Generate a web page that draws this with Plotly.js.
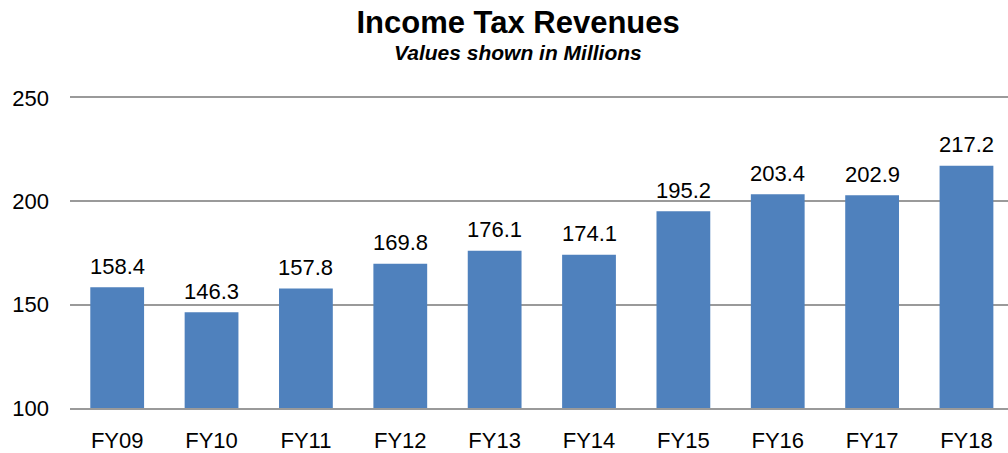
<!DOCTYPE html>
<html>
<head>
<meta charset="utf-8">
<script src="https://cdn.plot.ly/plotly-3.0.1.min.js"></script>
<style>
  html, body { margin: 0; padding: 0; background: #fff; }
  #chart { width: 1008px; height: 453px; }
</style>
</head>
<body>
<div id="chart"></div>
<script>
// fiscal years and revenues (millions)
const years = ['FY09', 'FY10', 'FY11', 'FY12', 'FY13', 'FY14', 'FY15', 'FY16', 'FY17', 'FY18'];
const revenues = [158.4, 146.3, 157.8, 169.8, 176.1, 174.1, 195.2, 203.4, 202.9, 217.2];
const yTicks = [100, 150, 200, 250];

const FONT = 'Liberation Sans, Arial, sans-serif';
const GRID = '#9A9A9A';

let trace = {
    type: 'bar',
    x: years,
    y: revenues,
    marker: {color: '#4F81BD'},
    hoverinfo: 'x+y',
};

// value labels above each bar
let labels = years.map((yr, i) => ({
    x: yr,
    y: revenues[i],
    xref: 'x',
    yref: 'y',
    text: revenues[i].toFixed(1),
    showarrow: false,
    yanchor: 'middle',
    yshift: 21,
    font: {family: FONT, size: 22, color: '#000'},
}));

labels.push({
    text: '<b><i>Values shown in Millions</i></b>',
    xref: 'paper',
    yref: 'paper',
    x: 0.4776,
    y: 1.148,
    xanchor: 'center',
    yanchor: 'middle',
    showarrow: false,
    font: {family: FONT, size: 21, color: '#000'},
});

let layout = {
    width: 1008,
    height: 453,
    margin: {l: 70, r: 0, t: 98, b: 45},
    paper_bgcolor: '#fff',
    plot_bgcolor: '#fff',
    showlegend: false,
    bargap: 0.43,
    title: {
        text: '<b>Income Tax Revenues</b>',
        font: {family: FONT, size: 31, color: '#000'},
        xref: 'container',
        yref: 'container',
        x: 0.514,
        xanchor: 'center',
        y: 1 - 22 / 453,
        yanchor: 'middle',
    },
    xaxis: {
        type: 'category',
        range: [-0.5, 9.44],
        showgrid: false,
        // bottom line = 100 gridline, mirrored top line = 250 gridline
        showline: true,
        mirror: true,
        linecolor: GRID,
        linewidth: 2,
        ticks: '',
        ticklabelstandoff: 12,
        tickfont: {family: FONT, size: 22, color: '#000'},
        fixedrange: true,
    },
    yaxis: {
        range: [100, 250],
        tickvals: yTicks,
        ticktext: yTicks.map(String),
        showgrid: true,
        gridcolor: GRID,
        gridwidth: 2,
        zeroline: false,
        showline: false,
        ticks: '',
        ticklabelstandoff: 20,
        tickfont: {family: FONT, size: 22, color: '#000'},
        fixedrange: true,
    },
    annotations: labels,
};

Plotly.newPlot('chart', [trace], layout, {displayModeBar: false, responsive: false});
</script>
</body>
</html>
